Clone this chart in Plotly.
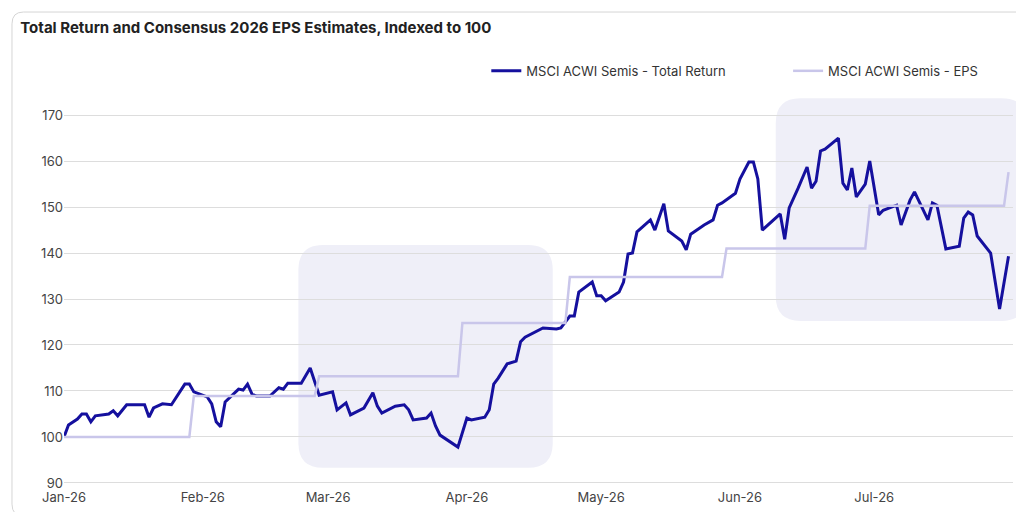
import plotly.graph_objects as go

# Total return, indexed to 100
tr_dates = ["2026-01-01", "2026-01-02", "2026-01-04", "2026-01-05", "2026-01-06", "2026-01-07", "2026-01-08",
            "2026-01-11", "2026-01-12", "2026-01-13", "2026-01-15", "2026-01-19", "2026-01-20", "2026-01-21",
            "2026-01-23", "2026-01-25", "2026-01-28", "2026-01-29", "2026-01-30", "2026-02-02", "2026-02-03",
            "2026-02-04", "2026-02-05", "2026-02-06", "2026-02-09", "2026-02-10", "2026-02-11", "2026-02-12",
            "2026-02-13", "2026-02-16", "2026-02-18", "2026-02-19", "2026-02-20", "2026-02-23", "2026-02-25",
            "2026-02-27", "2026-03-02", "2026-03-03", "2026-03-05", "2026-03-06", "2026-03-09", "2026-03-11",
            "2026-03-12", "2026-03-13", "2026-03-16", "2026-03-18", "2026-03-19", "2026-03-20", "2026-03-23",
            "2026-03-24", "2026-03-25", "2026-03-26", "2026-03-30", "2026-04-01", "2026-04-02", "2026-04-05",
            "2026-04-06", "2026-04-07", "2026-04-08", "2026-04-10", "2026-04-12", "2026-04-13", "2026-04-14",
            "2026-04-18", "2026-04-21", "2026-04-22", "2026-04-24", "2026-04-25", "2026-04-26", "2026-04-29",
            "2026-04-30", "2026-05-01", "2026-05-02", "2026-05-05", "2026-05-06", "2026-05-07", "2026-05-08",
            "2026-05-09", "2026-05-12", "2026-05-13", "2026-05-15", "2026-05-16", "2026-05-19", "2026-05-20",
            "2026-05-21", "2026-05-24", "2026-05-26", "2026-05-27", "2026-05-28", "2026-05-31", "2026-06-01",
            "2026-06-03", "2026-06-04", "2026-06-05", "2026-06-06", "2026-06-10", "2026-06-11", "2026-06-12",
            "2026-06-14", "2026-06-16", "2026-06-17", "2026-06-18", "2026-06-19", "2026-06-20", "2026-06-23",
            "2026-06-24", "2026-06-25", "2026-06-26", "2026-06-27", "2026-06-29", "2026-06-30", "2026-07-02",
            "2026-07-03", "2026-07-06", "2026-07-07", "2026-07-09", "2026-07-10", "2026-07-13", "2026-07-14",
            "2026-07-15", "2026-07-17", "2026-07-20", "2026-07-21", "2026-07-22", "2026-07-23", "2026-07-24",
            "2026-07-27", "2026-07-29", "2026-07-31"]
tr_values = [100, 102.6, 103.9, 105, 105, 103.3, 104.6,
             105, 105.7, 104.6, 107, 107, 104.3, 106.3,
             107.2, 107, 111.5, 111.5, 109.8, 108.7, 107.2,
             103.3, 102.2, 107.6, 110.4, 110.2, 111.5, 109.3,
             108.9, 108.9, 110.7, 110.4, 111.7, 111.7, 115,
             109.1, 109.8, 105.9, 107.4, 104.8, 106.3, 109.6,
             106.7, 105.2, 106.7, 107, 105.9, 103.7, 104.1,
             105.2, 102.4, 100.4, 97.8, 104.1, 103.7, 104.3,
             105.9, 111.5, 112.8, 115.9, 116.5, 120.7, 121.7,
             123.7, 123.5, 123.7, 126.3, 126.3, 131.5, 133.7,
             130.7, 130.7, 129.6, 131.5, 133.7, 139.8, 140,
             144.6, 147.2, 145, 150.7, 144.8, 142.6, 140.7,
             144.1, 146.1, 147.2, 150.4, 150.9, 153, 156.1,
             159.8, 159.8, 156.1, 145, 148.5, 143, 149.8,
             154.1, 158.7, 154.1, 155.6, 162.2, 162.6, 165,
             155.2, 153.7, 158.5, 152.2, 155, 160, 148.3,
             149.3, 150.4, 146.1, 151.5, 153.3, 147.2, 150.9,
             150.4, 140.9, 141.5, 147.6, 148.9, 148.3, 143.7,
             140, 127.8, 139.3]

# Consensus 2026 EPS, indexed to 100 (stepwise revisions)
eps_dates = ["2026-01-01", "2026-01-29", "2026-01-30", "2026-02-26", "2026-02-27", "2026-03-30", "2026-03-31",
             "2026-04-23", "2026-04-24", "2026-05-28", "2026-05-29", "2026-06-29", "2026-06-30", "2026-07-30",
             "2026-07-31"]
eps_values = [100, 100, 108.9, 108.9, 113.2, 113.2, 124.8,
              124.8, 134.8, 134.8, 141, 141, 150.3, 150.3,
              157.6]

tick_dates = ["2026-01-01", "2026-02-01", "2026-03-01", "2026-04-01", "2026-05-01", "2026-06-01", "2026-07-01"]
tick_labels = ["Jan-26", "Feb-26", "Mar-26", "Apr-26", "May-26", "Jun-26", "Jul-26"]

NAVY = "#15109e"
LAVENDER = "#c9c6ea"
SHADE = "#efeff8"


def rounded(x0, y0, x1, y1, rx, ry):
    return (f"M{x0+rx},{y0} L{x1-rx},{y0} Q{x1},{y0} {x1},{y0+ry} L{x1},{y1-ry} Q{x1},{y1} {x1-rx},{y1} "
            f"L{x0+rx},{y1} Q{x0},{y1} {x0},{y1-ry} L{x0},{y0+ry} Q{x0},{y0} {x0+rx},{y0} Z")


fig = go.Figure()
fig.add_trace(go.Scatter(x=tr_dates, y=tr_values, mode="lines", name="MSCI ACWI Semis - Total Return",
                         line=dict(color=NAVY, width=3), legend="legend"))
fig.add_trace(go.Scatter(x=eps_dates, y=eps_values, mode="lines", name="MSCI ACWI Semis - EPS",
                         line=dict(color=LAVENDER, width=2.5), legend="legend2"))

shapes = [
    dict(type="path", xref="paper", yref="paper", layer="below", line=dict(width=0), fillcolor=SHADE,
         path=rounded(0.247, 0.051, 0.515, 0.615, 0.026, 0.063)),
    dict(type="path", xref="paper", yref="paper", layer="below", line=dict(width=0), fillcolor=SHADE,
         path=rounded(0.750, 0.423, 1.014, 0.987, 0.026, 0.063)),
    dict(type="path", xref="paper", yref="paper", layer="below", line=dict(width=1, color="#d5d5d5"),
         fillcolor="rgba(0,0,0,0)", path=rounded(-0.0548, -0.0709, 1.0158, 1.205, 0.012, 0.03)),
]

legend_style = dict(orientation="h", y=1.056, xanchor="left", yanchor="middle",
                    font=dict(size=13, color="#333333"), itemwidth=30, bgcolor="rgba(0,0,0,0)")

fig.update_layout(
    width=1024, height=512,
    margin=dict(l=56, r=19, t=85, b=32, autoexpand=False),
    paper_bgcolor="white", plot_bgcolor="rgba(0,0,0,0)",
    font=dict(family="Inter, Roboto, sans-serif", size=13, color="#333333"),
    title=dict(text="<b>Total Return and Consensus 2026 EPS Estimates, Indexed to 100</b>",
               x=0.012, xanchor="left", y=0.962, yanchor="middle",
               font=dict(size=15, color="#222222")),
    showlegend=True,
    legend=dict(x=0.445, **legend_style),
    legend2=dict(x=0.763, **legend_style),
    xaxis=dict(range=["2026-01-01", "2026-08-01"], tickvals=tick_dates, ticktext=tick_labels,
               showgrid=False, zeroline=False, showline=False, ticks="", automargin=False,
               tickfont=dict(size=13, color="#444444")),
    yaxis=dict(range=[88.9, 174.8], tickvals=[90, 100, 110, 120, 130, 140, 150, 160, 170],
               showgrid=True, gridcolor="#dddddd", gridwidth=1, zeroline=False, showline=False,
               ticks="", automargin=False, tickfont=dict(size=13, color="#444444")),
    shapes=shapes,
)

fig.write_html("out.html")
